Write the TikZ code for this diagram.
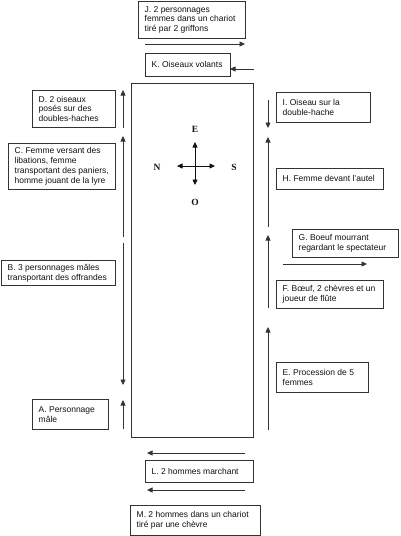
\documentclass[tikz,border=0pt]{standalone}
\usepackage{fontspec}
\setmainfont{Liberation Sans}
\newfontfamily\compassfont{Liberation Serif}
\usetikzlibrary{arrows.meta}
\definecolor{ink}{HTML}{111111}
\definecolor{edge}{HTML}{333333}
\tikzset{
  panel/.style={draw=edge,fill=white,line width=0.8pt,anchor=north west,inner sep=0pt},
  paneltext/.style={anchor=west,align=left,inner xsep=6.5pt,inner ysep=0pt,text=ink,
                    font=\fontsize{8.5}{9.8}\selectfont},
  flow/.style={-{Triangle[length=5.5pt,width=5pt]},line width=0.65pt,edge},
  cardinal/.style={font=\compassfont\bfseries\fontsize{9.5}{10}\selectfont,text=ink,inner sep=0pt},
}

\begin{document}
\begin{tikzpicture}[x=1pt,y=-1pt]
  \useasboundingbox (0,0) rectangle (400,536);
  % sarcophagus outline
  \draw[edge,line width=0.8pt] (131,83) rectangle (253,437);

  % compass
  \coordinate (mid) at (195,166);
  \node[cardinal] (east)  at (195,129) {E};
  \node[cardinal] (north) at (157,167) {N};
  \node[cardinal] (south) at (234,167) {S};
  \node[cardinal] (west)  at (195,202) {O};
  \draw[flow,ink] (mid) -- (195,142);
  \draw[flow,ink] (mid) -- (195,185);
  \draw[flow,ink] (mid) -- (177,166);
  \draw[flow,ink] (mid) -- (215,166);

  % short side, top
  \node[panel,minimum width=107pt,minimum height=37pt] (J) at (138,1) {};
  \node[paneltext] (J-txt) at (J.west) {J. 2 personnages\\femmes dans un chariot\\tiré par 2 griffons};
  \node[panel,minimum width=85pt,minimum height=23pt] (K) at (145,53) {};
  \node[paneltext] (K-txt) at (K.west) {K. Oiseaux volants};
  \draw[flow] (145,44) -- (245,44);
  \draw[flow] (254,69) -- (230,69);

  % long side, left
  \node[panel,minimum width=83pt,minimum height=37pt] (D) at (32,90) {};
  \node[paneltext] (D-txt) at (D.west) {D. 2 oiseaux\\posés sur des\\doubles-haches};
  \node[panel,minimum width=107pt,minimum height=46pt] (C) at (8,143) {};
  \node[paneltext] (C-txt) at (C.west) {C. Femme versant des\\libations, femme\\transportant des paniers,\\homme jouant de la lyre};
  \node[panel,minimum width=114pt,minimum height=25pt] (B) at (1,260) {};
  \node[paneltext] (B-txt) at (B.west) {B. 3 personnages mâles\\transportant des offrandes};
  \node[panel,minimum width=76pt,minimum height=30pt] (A) at (32,399) {};
  \node[paneltext] (A-txt) at (A.west) {A. Personnage\\mâle};
  \draw[flow] (123,128) -- (123,90);
  \draw[flow] (123,237) -- (123,136);
  \draw[flow] (123,243) -- (123,385);
  \draw[flow] (123,429) -- (123,400);

  % long side, right
  \node[panel,minimum width=94pt,minimum height=30pt] (I) at (276,92) {};
  \node[paneltext] (I-txt) at (I.west) {I. Oiseau sur la\\double-hache};
  \node[panel,minimum width=107pt,minimum height=21pt] (H) at (276,168) {};
  \node[paneltext] (H-txt) at (H.west) {H. Femme devant l'autel};
  \node[panel,minimum width=106pt,minimum height=28pt] (G) at (292,229) {};
  \node[paneltext] (G-txt) at (G.west) {G. Boeuf mourrant\\regardant le spectateur};
  \node[panel,minimum width=107pt,minimum height=28pt] (F) at (276,280) {};
  \node[paneltext] (F-txt) at (F.west) {F. Bœuf, 2 chèvres et un\\joueur de flûte};
  \node[panel,minimum width=92pt,minimum height=30pt] (E) at (276,362) {};
  \node[paneltext] (E-txt) at (E.west) {E. Procession de 5\\femmes};
  \draw[flow] (268,100) -- (268,128);
  \draw[flow] (268,227) -- (268,137);
  \draw[flow] (268,308) -- (268,235);
  \draw[flow] (283,264) -- (367,264);
  \draw[flow] (268,430) -- (268,327);

  % short side, bottom
  \node[panel,minimum width=108pt,minimum height=22pt] (L) at (145,460) {};
  \node[paneltext] (L-txt) at (L.west) {L. 2 hommes marchant};
  \node[panel,minimum width=130pt,minimum height=30pt] (M) at (130,505) {};
  \node[paneltext] (M-txt) at (M.west) {M. 2 hommes dans un chariot\\tiré par une chèvre};
  \draw[flow] (245,453) -- (147,453);
  \draw[flow] (245,490) -- (147,490);
\end{tikzpicture}
\end{document}
